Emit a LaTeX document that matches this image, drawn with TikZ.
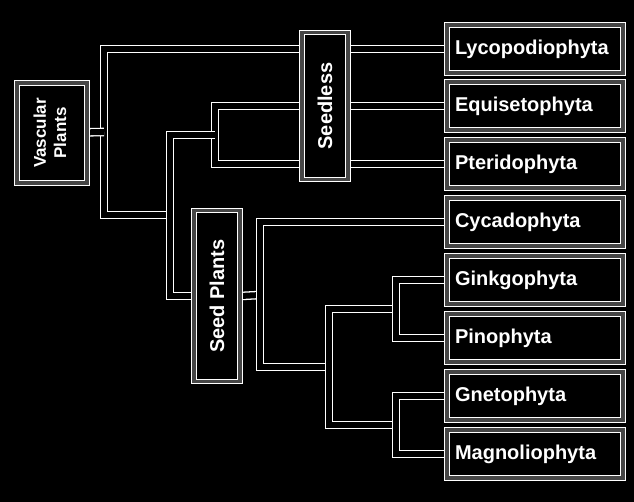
\documentclass[tikz,border=0pt]{standalone}
\usepackage{fontspec}
\setmainfont{Liberation Sans}
\pgfdeclarelayer{bg}
\pgfdeclarelayer{edges}
\pgfsetlayers{bg,edges,main}
\begin{document}
\begin{tikzpicture}[
    x=1pt, y=-1pt,
    box/.style={draw=white, line width=1.2pt, double=gray!55!black, double distance=3.5pt,
        fill=black, text=white, inner sep=0pt, font=\bfseries\fontsize{20}{22}\selectfont},
    taxon/.style={box, minimum width=176pt, minimum height=48pt, text width=160pt, align=left},
    group/.style={box, minimum width=46pt},
    link/.style={draw=white, line width=1.3pt, double=black, double distance=6pt}
]
    \useasboundingbox (0,0) rectangle (634,502);
    \begin{pgfonlayer}{bg}
        \fill[black] (0,0) rectangle (634,502);
    \end{pgfonlayer}

    % clades
    \node[box, minimum width=70pt, minimum height=100pt, font=\bfseries\fontsize{17}{20}\selectfont]
        (vasc) at (52,133) {\rotatebox{90}{\begin{tabular}{@{}c@{}}Vascular\\Plants\end{tabular}}};
    \node[group, minimum height=147pt] (seedless) at (325,106) {\rotatebox{90}{Seedless}};
    \node[group, minimum height=171pt] (seedpl) at (217,296) {\rotatebox{90}{Seed Plants}};

    % taxa
    \node[taxon] (lyco) at (535,49)  {Lycopodiophyta};
    \node[taxon] (equi) at (535,106) {Equisetophyta};
    \node[taxon] (pter) at (535,164) {Pteridophyta};
    \node[taxon] (cyca) at (535,222) {Cycadophyta};
    \node[taxon] (gink) at (535,280) {Ginkgophyta};
    \node[taxon] (pino) at (535,338) {Pinophyta};
    \node[taxon] (gnet) at (535,396) {Gnetophyta};
    \node[taxon] (magn) at (535,454) {Magnoliophyta};

    % branch points
    \coordinate (R) at (104,132);
    \coordinate (A) at (170,215);
    \coordinate (B) at (215,135);
    \coordinate (C) at (260,295);
    \coordinate (D) at (329,367);
    \coordinate (E) at (396,309);
    \coordinate (F) at (396,425);

    \begin{pgfonlayer}{edges}
        \draw[link] (lyco.west) -| (R) |- (A);
        \draw[link] (vasc) -- (R);
        \draw[link] (equi.west) -| (B) |- (pter.west);
        \draw[link] (B) -| (A) |- (seedpl.west);
        \draw[link] (seedpl.east) -- (C);
        \draw[link] (cyca.west) -| (C) |- (D);
        \draw[link] (E) -| (D) |- (F);
        \draw[link] (gink.west) -| (E) |- (pino.west);
        \draw[link] (gnet.west) -| (F) |- (magn.west);
    \end{pgfonlayer}
\end{tikzpicture}
\end{document}
